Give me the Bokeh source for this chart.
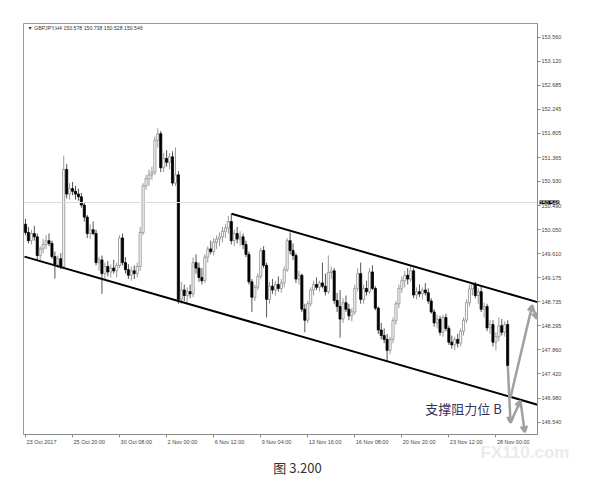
from bokeh.plotting import figure
from bokeh.models import (Range1d, FixedTicker, NumeralTickFormatter, Label, Span,
                          Arrow, OpenHead, ColumnDataSource)
from bokeh.embed import file_html
from bokeh.resources import INLINE

# ---------------- data ----------------
header_text = "\u25bc GBPJPY,H4  150.578 150.738 150.528 150.546"
current_price = 150.546

x_tick_idx = [0, 16, 32, 48, 64, 80, 96, 112, 128, 144, 160]
x_tick_labels = ["23 Oct 2017", "25 Oct 20:00", "30 Oct 08:00", "2 Nov 00:00", "6 Nov 12:00",
                 "9 Nov 04:00", "13 Nov 16:00", "16 Nov 08:00", "20 Nov 20:00",
                 "23 Nov 12:00", "28 Nov 00:00"]

y_ticks = [153.560, 153.120, 152.685, 152.245, 151.805, 151.365, 150.930, 150.490,
           150.050, 149.610, 149.175, 148.735, 148.295, 147.860, 147.420, 146.980, 146.540]

opens = [150.15, 150.00, 149.85, 149.98, 149.92, 149.58, 149.70, 149.78, 149.85, 149.80,
         149.56, 149.42, 149.52, 149.38, 151.15, 150.70, 150.80, 150.75, 150.70, 150.65,
         150.50, 150.28, 149.98, 150.05, 149.98, 149.45, 149.50, 149.25, 149.38, 149.28,
         149.35, 149.30, 149.40, 149.90, 149.45, 149.32, 149.22, 149.30, 149.25, 149.38,
         150.00, 150.85, 150.98, 151.05, 151.10, 151.68, 151.80, 151.18, 151.35, 151.28,
         151.38, 150.90, 151.05, 148.78, 148.95, 148.85, 148.92, 148.88, 149.45, 149.35,
         149.18, 149.12, 149.55, 149.70, 149.65, 149.82, 149.88, 149.92, 150.02, 150.08,
         150.20, 149.85, 149.98, 149.88, 149.92, 149.78, 149.60, 149.10, 148.82, 149.00,
         149.20, 149.67, 149.40, 148.78, 149.02, 148.95, 149.05, 148.98, 149.08, 149.32,
         149.85, 149.67, 149.58, 149.15, 149.22, 148.60, 148.40, 148.70, 148.95, 149.05,
         149.00, 149.08, 149.02, 148.92, 149.27, 149.30, 148.76, 148.65, 148.42, 148.72,
         148.60, 148.48, 148.55, 148.98, 149.25, 148.78, 148.98, 148.92, 149.28, 148.98,
         148.62, 148.22, 148.12, 148.05, 147.85, 148.05, 148.39, 148.70, 148.98, 149.12,
         149.22, 149.15, 149.30, 148.86, 148.92, 148.88, 148.95, 148.90, 148.75, 148.55,
         148.35, 148.42, 148.18, 148.45, 148.25, 148.00, 147.95, 148.05, 147.98, 148.20,
         148.40, 148.72, 148.97, 149.05, 148.85, 148.92, 148.60, 148.65, 148.26, 148.32,
         148.00, 148.10, 148.30, 148.18, 148.32]

highs = [150.25, 150.10, 150.05, 150.12, 149.98, 149.75, 149.88, 149.95, 149.98, 149.85,
         149.65, 149.58, 149.62, 151.40, 151.25, 150.90, 150.92, 150.85, 150.80, 150.72,
         150.55, 150.32, 150.15, 150.20, 150.05, 149.55, 149.58, 149.45, 149.48, 149.42,
         149.50, 149.45, 149.95, 149.98, 149.55, 149.42, 149.38, 149.40, 149.45, 150.10,
         150.90, 151.05, 151.15, 151.20, 151.75, 151.90, 151.85, 151.45, 151.50, 151.45,
         151.48, 151.55, 151.12, 149.10, 149.05, 149.00, 149.05, 149.55, 149.60, 149.45,
         149.35, 149.60, 149.75, 149.85, 149.90, 149.95, 150.00, 150.10, 150.15, 150.30,
         150.34, 150.05, 150.10, 150.02, 149.98, 149.85, 149.65, 149.15, 149.05, 149.25,
         149.72, 149.75, 149.45, 149.10, 149.15, 149.12, 149.20, 149.15, 149.38, 149.90,
         150.00, 149.80, 149.62, 149.30, 149.25, 148.70, 148.75, 149.00, 149.12, 149.18,
         149.12, 149.45, 149.25, 149.58, 149.38, 149.35, 148.90, 148.95, 148.80, 148.85,
         148.70, 148.62, 149.05, 149.35, 149.45, 149.05, 149.12, 149.35, 149.40, 149.02,
         148.65, 148.35, 148.25, 148.15, 148.10, 148.45, 148.75, 149.05, 149.20, 149.30,
         149.35, 149.40, 149.35, 149.00, 149.05, 149.00, 149.08, 148.98, 148.80, 148.60,
         148.50, 148.48, 148.50, 148.52, 148.30, 148.12, 148.10, 148.15, 148.25, 148.45,
         148.78, 149.05, 149.08, 149.10, 148.98, 149.02, 148.72, 148.70, 148.40, 148.40,
         148.18, 148.45, 148.42, 148.38, 148.40]

lows = [149.95, 149.80, 149.78, 149.85, 149.50, 149.50, 149.62, 149.70, 149.75, 149.52,
        149.16, 149.35, 149.33, 149.33, 150.62, 150.60, 150.68, 150.60, 150.58, 150.45,
        150.20, 149.90, 149.88, 149.95, 149.40, 149.30, 148.88, 149.15, 149.20, 149.18,
        149.25, 149.18, 149.35, 149.40, 149.25, 149.15, 149.12, 149.15, 149.18, 149.30,
        149.95, 150.78, 150.85, 150.95, 151.05, 151.55, 151.10, 151.10, 151.20, 151.15,
        150.85, 150.85, 148.70, 148.70, 148.75, 148.72, 148.80, 148.82, 149.25, 149.10,
        149.05, 149.08, 149.45, 149.60, 149.58, 149.70, 149.75, 149.82, 149.90, 149.98,
        149.78, 149.75, 149.80, 149.75, 149.70, 149.55, 149.05, 148.55, 148.75, 148.95,
        149.15, 149.35, 148.45, 148.70, 148.88, 148.85, 148.92, 148.90, 149.00, 149.28,
        149.60, 149.50, 149.08, 149.05, 148.55, 148.18, 148.35, 148.65, 148.85, 148.95,
        148.92, 148.98, 148.85, 148.88, 149.15, 148.70, 148.55, 148.08, 148.35, 148.55,
        148.40, 148.38, 148.50, 148.92, 148.70, 148.70, 148.85, 148.88, 148.95, 148.58,
        148.15, 148.05, 147.98, 147.66, 147.78, 147.98, 148.32, 148.62, 148.90, 149.00,
        149.05, 149.10, 148.80, 148.78, 148.82, 148.78, 148.85, 148.70, 148.52, 148.28,
        148.25, 148.12, 148.10, 148.20, 147.95, 147.88, 147.85, 147.90, 147.92, 148.12,
        148.35, 148.65, 148.85, 148.80, 148.70, 148.55, 148.45, 148.20, 148.15, 147.92,
        147.85, 148.02, 148.12, 148.10, 147.55]

closes = [150.00, 149.85, 149.98, 149.92, 149.58, 149.70, 149.78, 149.85, 149.80, 149.56,
          149.42, 149.52, 149.38, 151.15, 150.70, 150.80, 150.75, 150.70, 150.65, 150.50,
          150.28, 149.98, 150.05, 149.98, 149.45, 149.50, 149.25, 149.38, 149.28, 149.35,
          149.30, 149.40, 149.90, 149.45, 149.32, 149.22, 149.30, 149.25, 149.38, 150.00,
          150.85, 150.98, 151.05, 151.10, 151.68, 151.80, 151.18, 151.35, 151.28, 151.38,
          150.90, 151.05, 148.78, 148.95, 148.85, 148.92, 148.88, 149.45, 149.35, 149.18,
          149.12, 149.55, 149.70, 149.65, 149.82, 149.88, 149.92, 150.02, 150.08, 150.20,
          149.85, 149.98, 149.88, 149.92, 149.78, 149.60, 149.10, 148.82, 149.00, 149.20,
          149.67, 149.40, 148.78, 149.02, 148.95, 149.05, 148.98, 149.08, 149.32, 149.85,
          149.67, 149.58, 149.15, 149.22, 148.60, 148.40, 148.70, 148.95, 149.05, 149.00,
          149.08, 149.02, 148.92, 149.27, 149.30, 148.76, 148.65, 148.42, 148.72, 148.60,
          148.48, 148.55, 148.98, 149.25, 148.78, 148.98, 148.92, 149.28, 148.98, 148.62,
          148.22, 148.12, 148.05, 147.85, 148.05, 148.39, 148.70, 148.98, 149.12, 149.22,
          149.15, 149.30, 148.86, 148.92, 148.88, 148.95, 148.90, 148.75, 148.55, 148.35,
          148.42, 148.18, 148.45, 148.25, 148.00, 147.95, 148.05, 147.98, 148.20, 148.40,
          148.72, 148.97, 149.05, 148.85, 148.92, 148.60, 148.65, 148.26, 148.32, 148.00,
          148.10, 148.30, 148.18, 148.32, 147.57]

# channel trend lines (bar index, price)
upper_line_x = [70.07, 174.15]
upper_line_y = [150.34, 148.73]
lower_line_x = [-0.34, 174.15]
lower_line_y = [149.56, 146.86]

# projected-path arrows: (x0, y0, x1, y1)
arrow_paths = [
    (164.05, 147.57, 164.97, 146.53),
    (164.97, 146.99, 172.35, 148.67),
    (172.35, 148.67, 173.9, 148.43),
    (164.97, 146.53, 168.37, 146.93),
    (168.37, 146.93, 169.8, 146.36),
]

annotation_text = "支撑阻力位 B"
caption = "图 3.200"
watermark = "FX110.com"

# ---------------- figure ----------------
X0, X1 = -0.68, 174.15
FRAME_W = 514.0
px_per_bar = FRAME_W / (X1 - X0)

p = figure(width=599, height=488, output_backend="svg", toolbar_location=None,
           x_range=Range1d(X0, X1), y_range=Range1d(146.316, 153.81),
           y_axis_location="right", min_border_left=23, min_border_top=23,
           min_border_right=62, min_border_bottom=54)
p.background_fill_color = "white"
p.border_fill_color = "white"
p.outline_line_color = "#9a9a9a"
p.grid.visible = False

LBL_FONT = "Liberation Sans"
LBL_SIZE = 5.5

# y axis (right)
ya = p.yaxis[0]
ya.ticker = FixedTicker(ticks=y_ticks)
ya.formatter = NumeralTickFormatter(format="0.000")
ya.major_label_text_font = LBL_FONT
ya.major_label_text_font_size = f"{LBL_SIZE}px"
ya.major_label_text_color = "#444444"
ya.axis_line_color = "#8a8a8a"
ya.major_tick_line_color = "#8a8a8a"
ya.major_tick_out = 3
ya.major_tick_in = 0
ya.minor_tick_line_color = None
ya.major_label_standoff = 1

# x axis (bottom): MT4-style labels start at their tick
CW = {"0": .556, "1": .556, "2": .556, "3": .556, "4": .556, "5": .556, "6": .556,
      "7": .556, "8": .556, "9": .556, " ": .278, ":": .278, "O": .778, "N": .722,
      "c": .5, "t": .278, "o": .556, "v": .5}
def half_width_bars(s):
    w = sum(CW.get(ch, .55) for ch in s) * LBL_SIZE
    return (w / 2 + 1.0) / px_per_bar

label_pos = [t + half_width_bars(s) for t, s in zip(x_tick_idx, x_tick_labels)]
xa = p.xaxis[0]
xa.ticker = FixedTicker(ticks=label_pos, minor_ticks=x_tick_idx)
xa.major_label_overrides = {pos: s for pos, s in zip(label_pos, x_tick_labels)}
xa.major_label_text_font = LBL_FONT
xa.major_label_text_font_size = f"{LBL_SIZE}px"
xa.major_label_text_color = "#444444"
xa.major_label_standoff = 1
xa.axis_line_color = "#8a8a8a"
xa.major_tick_line_color = None
xa.major_tick_out = 1
xa.major_tick_in = 0
xa.minor_tick_line_color = "#8a8a8a"
xa.minor_tick_out = 3
xa.minor_tick_in = 0

# current price line and its tag on the price axis
p.add_layout(Span(location=current_price, dimension="width", line_color="#dcdcdc", line_width=1))
p.add_layout(Label(x=X1, y=current_price, x_offset=2, text=f"{current_price:.3f}",
                   text_font=LBL_FONT, text_font_size=f"{LBL_SIZE}px", text_color="white",
                   text_baseline="middle", background_fill_color="black"), "right")

# candles
idx = list(range(len(closes)))
up = [c >= o for o, c in zip(opens, closes)]
src = ColumnDataSource(dict(
    x=idx, o=opens, h=highs, l=lows, c=closes,
    top=[max(o, c) for o, c in zip(opens, closes)],
    bot=[min(o, c) for o, c in zip(opens, closes)],
    fill=["white" if u else "black" for u in up],
    line=["#8c8c8c" if u else "black" for u in up],
    wick=["#9a9a9a" if u else "#555555" for u in up],
))
p.segment(x0="x", y0="h", x1="x", y1="l", color="wick", line_width=1, source=src)
p.vbar(x="x", top="top", bottom="bot", width=0.72, fill_color="fill", line_color="line",
       line_width=0.8, source=src)

# channel lines
p.line(upper_line_x, upper_line_y, line_color="black", line_width=2)
p.line(lower_line_x, lower_line_y, line_color="black", line_width=2)

# arrows
for x0, y0, x1, y1 in arrow_paths:
    p.add_layout(Arrow(x_start=x0, y_start=y0, x_end=x1, y_end=y1,
                       line_color="#a0a0a0", line_width=2.5,
                       end=OpenHead(size=6, line_color="#a0a0a0", line_width=2.5)))

# header
p.add_layout(Label(x=0.7, y=153.72, text=header_text, text_font=LBL_FONT,
                   text_font_size="5.2px", text_color="#333333", text_baseline="middle"))

# annotation text
p.add_layout(Label(x=149.0, y=146.79, text=annotation_text, text_font="Noto Sans CJK SC",
                   text_font_size="13px", text_color="#34345e", text_align="center",
                   text_baseline="middle"))

# watermark + caption below the chart (positioned on the chart's own scales)
p.add_layout(Label(x=154.8, y=145.98, text=watermark, text_font="Liberation Sans",
                   text_font_size="17px", text_font_style="bold", text_color="#ebebeb",
                   text_baseline="middle"), "below")
p.add_layout(Label(x=92.5, y=145.71, text=caption, text_font="Noto Sans CJK SC",
                   text_font_size="13px", text_color="#333333", text_align="center",
                   text_baseline="middle"), "below")

open("out.html", "w").write(file_html(p, INLINE))
